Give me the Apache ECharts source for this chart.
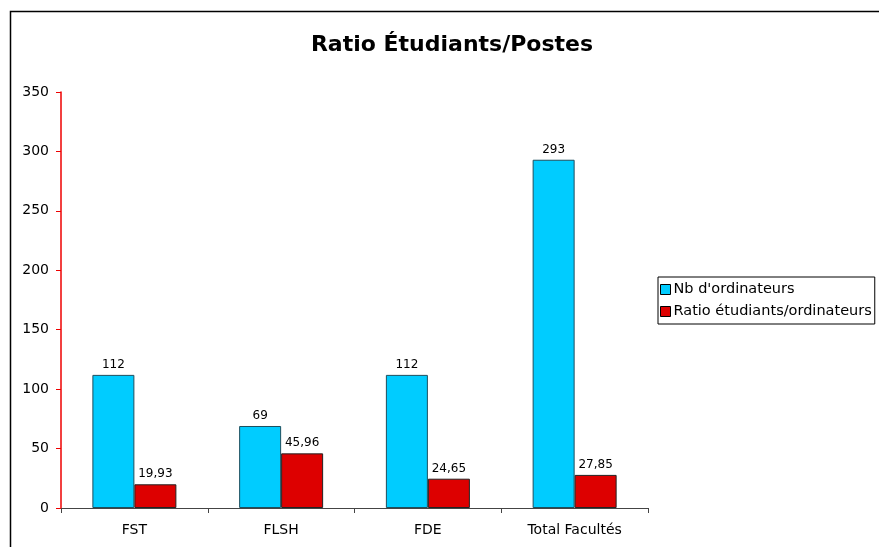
<!DOCTYPE html>
<html>
<head>
<meta charset="utf-8">
<script src="https://cdn.jsdelivr.net/npm/echarts@6/dist/echarts.min.js"></script>
<style>
  html, body { margin: 0; padding: 0; background: #fff; }
  #chart { width: 879px; height: 547px; }
</style>
</head>
<body>
<div id="chart"></div>
<script>
const categories = ['FST', 'FLSH', 'FDE', 'Total Facultés']
const nbOrdinateurs = [112, 69, 112, 293]
const ratioEtudiants = [19.93, 45.96, 24.65, 27.85]
const yTicks = [0, 50, 100, 150, 200, 250, 300, 350]

const chart = echarts.init(document.getElementById('chart'))
const font = 'Verdana, "DejaVu Sans", sans-serif'

const fmt = p => String(p.value).replace('.', ',')

const option = {
  animation: false,
  textStyle: { fontFamily: font },
  graphic: [{
    type: 'rect',
    shape: { x: 10.5, y: 11.5, width: 900, height: 600 },
    style: { fill: 'none', stroke: '#000', lineWidth: 1.5 }
  }],
  title: {
    text: 'Ratio Étudiants/Postes',
    left: 447,
    top: 29,
    textAlign: 'center',
    textStyle: { fontSize: 22, fontWeight: 'bold', color: '#000', fontFamily: font }
  },
  legend: {
    orient: 'vertical',
    left: 658,
    top: 277,
    padding: [5, 3, 5, 2],
    itemGap: 7,
    itemWidth: 10,
    itemHeight: 10,
    borderColor: '#000',
    borderWidth: 1,
    textStyle: { fontSize: 14.5, color: '#000', fontFamily: font, padding: [0, 0, 0, -2] },
    data: [
      { name: "Nb d'ordinateurs", icon: 'rect', itemStyle: { borderColor: '#000', borderWidth: 1 } },
      { name: 'Ratio étudiants/ordinateurs', icon: 'rect', itemStyle: { borderColor: '#000', borderWidth: 1 } }
    ]
  },
  grid: { left: 61, right: 231, top: 92, bottom: 39 },
  xAxis: {
    type: 'category',
    data: categories,
    axisLine: { lineStyle: { color: '#444', width: 1 } },
    axisTick: { show: true, length: 5, lineStyle: { color: '#444' } },
    axisLabel: { color: '#000', fontSize: 14, margin: 15, fontFamily: font }
  },
  yAxis: {
    type: 'value',
    min: yTicks[0],
    max: yTicks[yTicks.length - 1],
    interval: 50,
    axisLine: { show: true, lineStyle: { color: '#ee0000', width: 1.5 } },
    axisTick: { show: true, length: 5, lineStyle: { color: '#ee0000', width: 1 } },
    splitLine: { show: false },
    axisLabel: { color: '#000', fontSize: 14, margin: 12, fontFamily: font }
  },
  series: [
    {
      name: "Nb d'ordinateurs",
      type: 'bar',
      data: nbOrdinateurs,
      barWidth: 42,
      barGap: '0%',
      itemStyle: { color: '#00CCFF', borderColor: '#1d4f5e', borderWidth: 1 },
      label: { show: true, position: 'top', distance: 4, fontSize: 12, color: '#000', fontFamily: font, formatter: fmt }
    },
    {
      name: 'Ratio étudiants/ordinateurs',
      type: 'bar',
      data: ratioEtudiants,
      barWidth: 42,
      barGap: '0%',
      itemStyle: { color: '#DD0000', borderColor: '#222', borderWidth: 1 },
      label: { show: true, position: 'top', distance: 4, fontSize: 12, color: '#000', fontFamily: font, formatter: fmt }
    }
  ]
}

chart.setOption(option)
</script>
</body>
</html>
